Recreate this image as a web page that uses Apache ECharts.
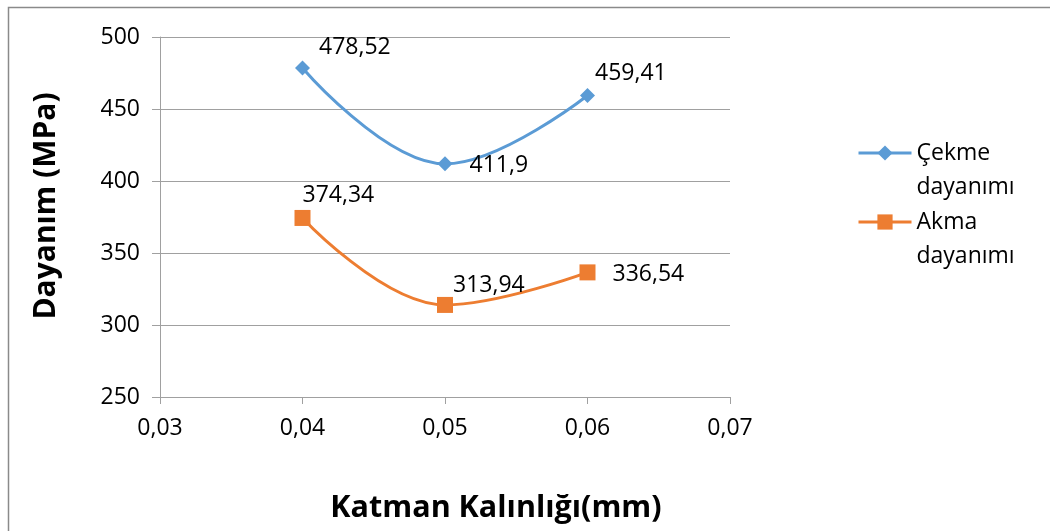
<!DOCTYPE html>
<html><head><meta charset="utf-8">
<script src="https://cdn.jsdelivr.net/npm/echarts@6/dist/echarts.min.js"></script>
<style>html,body{margin:0;padding:0;background:#fff}#c{width:1050px;height:531px}</style>
</head><body><div id="c"></div>
<script>
const xValues = [0.04, 0.05, 0.06];
const cekme = [478.52, 411.9, 459.41];
const akma = [374.34, 313.94, 336.54];
const seriesNames = ['Çekme\ndayanımı', 'Akma\ndayanımı'];
const xTitle = 'Katman Kalınlığı(mm)';
const yTitle = 'Dayanım (MPa)';

const font = '"Open Sans", "DejaVu Sans", sans-serif';
const fmt = p => String(p.value[1]).replace('.', ',');
const pair = arr => arr.map((v, i) => [xValues[i], v]);
const gridColor = '#a0a0a0';

const legendBase = {
  orient: 'vertical', left: 852, itemGap: 0,
  itemWidth: 53, itemHeight: 19,
  lineStyle: {width: 3},
  formatter: name => ' \n' + name,
  textStyle: {fontFamily: font, fontSize: 23, color: '#000', lineHeight: 34}
};

const chart = echarts.init(document.getElementById('c'), null, {renderer: 'canvas'});
chart.setOption({
  animation: false,
  backgroundColor: '#fff',
  graphic: [{type: 'rect', shape: {x: 8.5, y: 7.5, width: 1060, height: 540}, style: {fill: 'none', stroke: '#8a8a8a', lineWidth: 1.5}}],
  grid: {left: 160, right: 320, top: 37, bottom: 134},
  legend: [
    Object.assign({}, legendBase, {top: 97, data: [seriesNames[0]]}),
    Object.assign({}, legendBase, {top: 166, data: [seriesNames[1]]})
  ],
  xAxis: {
    type: 'value', min: 0.03, max: 0.07, interval: 0.01,
    name: xTitle, nameLocation: 'middle', nameGap: 96,
    nameTextStyle: {fontFamily: font, fontSize: 30.5, fontWeight: 'bold', color: '#000', padding: [0, 0, 0, 102]},
    axisLine: {lineStyle: {color: gridColor, width: 1}},
    axisTick: {show: true, length: 7, lineStyle: {color: gridColor}},
    axisLabel: {fontFamily: font, fontSize: 23, color: '#000', margin: 20, formatter: v => v.toFixed(2).replace('.', ',')},
    splitLine: {show: false}
  },
  yAxis: {
    type: 'value', min: 250, max: 500, interval: 50,
    name: yTitle, nameLocation: 'middle', nameGap: 99, nameRotate: 90,
    nameTextStyle: {fontFamily: font, fontSize: 30, fontWeight: 'bold', color: '#000', padding: [0, 0, 0, 22]},
    axisLine: {show: true, lineStyle: {color: gridColor, width: 1}},
    axisTick: {show: true, length: 8, inside: false, lineStyle: {color: gridColor}},
    axisLabel: {fontFamily: font, fontSize: 23, color: '#000', margin: 20},
    splitLine: {show: true, lineStyle: {color: gridColor, width: 1}}
  },
  series: [
    {
      name: seriesNames[0], type: 'line', smooth: 0.4,
      symbol: 'diamond', symbolSize: 15,
      itemStyle: {color: '#5B9BD5'},
      lineStyle: {color: '#5B9BD5', width: 3},
      label: {show: true, formatter: fmt, fontFamily: font, fontSize: 23, color: '#000', position: 'right'},
      data: pair(cekme).map((d, i) => ({value: d, label: {offset: [[4,-20],[12,2],[-5,-22]][i]}}))
    },
    {
      name: seriesNames[1], type: 'line', smooth: 0.4,
      symbol: 'rect', symbolSize: 16,
      itemStyle: {color: '#ED7D31'},
      lineStyle: {color: '#ED7D31', width: 3},
      label: {show: true, formatter: fmt, fontFamily: font, fontSize: 23, color: '#000', position: 'right'},
      data: pair(akma).map((d, i) => ({value: d, label: {offset: [[-13,-22],[-5,-19],[12,2]][i]}}))
    }
  ]
});
</script></body></html>
